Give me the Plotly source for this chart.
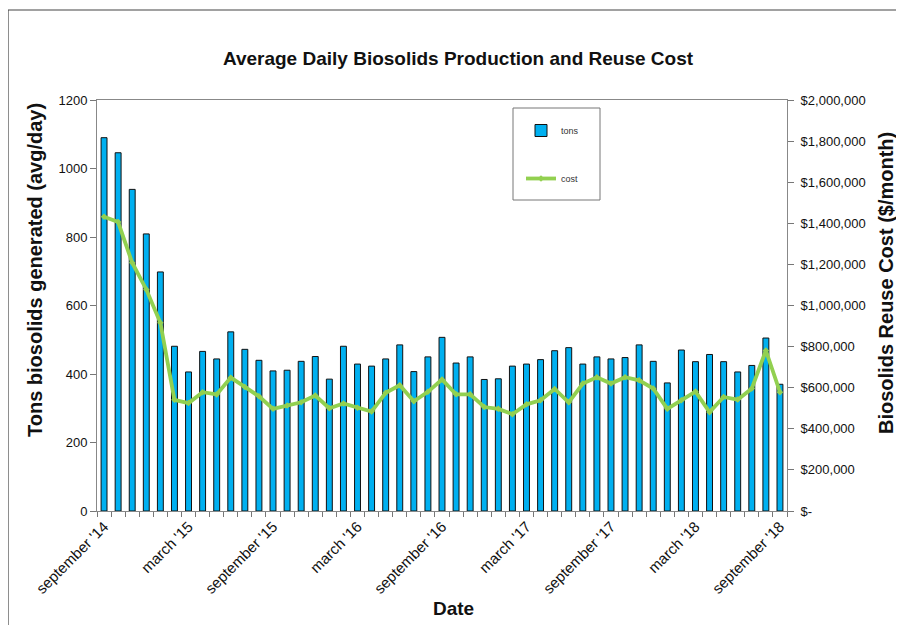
import plotly.graph_objects as go

months = [f"{y}-{m:02d}" for y, m in
          [(2014, m) for m in range(9, 13)] +
          [(yy, m) for yy in (2015, 2016, 2017) for m in range(1, 13)] +
          [(2018, m) for m in range(1, 10)]]

tons = [1090, 1046, 939, 809, 698, 481, 406, 466, 444, 523,
        472, 440, 409, 411, 437, 451, 385, 481, 429, 423,
        444, 485, 407, 450, 507, 432, 450, 384, 386, 423,
        429, 442, 468, 477, 429, 450, 444, 448, 485, 437,
        374, 470, 436, 457, 436, 406, 425, 505, 370]

cost = [1432000, 1406000, 1208000, 1078000, 916000, 541000, 525000, 578000, 567000, 649000,
        604000, 558000, 497000, 513000, 529000, 562000, 500000, 523000, 502000, 484000,
        575000, 612000, 534000, 580000, 640000, 568000, 568000, 506000, 497000, 471000,
        519000, 539000, 594000, 529000, 620000, 651000, 620000, 651000, 636000, 596000,
        497000, 539000, 581000, 481000, 555000, 542000, 596000, 781000, 578000]

label_months = {"2014-09": "september '14", "2015-03": "march '15", "2015-09": "september '15",
                "2016-03": "march '16", "2016-09": "september '16", "2017-03": "march '17",
                "2017-09": "september '17", "2018-03": "march '18", "2018-09": "september '18"}
tick_text = [label_months.get(m, "") for m in months]

left_ticks = [0, 200, 400, 600, 800, 1000, 1200]
right_ticks = [0, 200000, 400000, 600000, 800000, 1000000, 1200000, 1400000, 1600000, 1800000, 2000000]
right_text = ["$-"] + [f"${v:,}" for v in right_ticks[1:]]

FONT = "Arial, Liberation Sans, sans-serif"

fig = go.Figure()
fig.add_trace(go.Bar(
    x=months, y=tons, name="tons", width=0.42,
    marker=dict(color="#00B0F0", line=dict(color="#111111", width=1)),
    legendgroup="a", yaxis="y",
))
fig.add_trace(go.Scatter(
    x=months, y=cost, name="cost", mode="lines+markers",
    line=dict(color="#92D050", width=3.8),
    marker=dict(color="#92D050", size=5, symbol="diamond"),
    legendgroup="b", yaxis="y2",
))

# page has an 8px body margin: figure coords = page coords - 8
OFF = 8
W, H = 904 - OFF, 625 - OFF
L, R, T, B = 97 - OFF, 787 - OFF, 100 - OFF, 511 - OFF

def px(x):
    return (x - OFF - L) / (R - L)

def py(y):
    return (B - (y - OFF)) / (B - T)

TITLE_FONT = dict(size=20, family=FONT, color="#111111")

fig.update_layout(
    width=W, height=H,
    margin=dict(l=L, r=W - R, t=T, b=H - B, autoexpand=False),
    paper_bgcolor="white", plot_bgcolor="white",
    font=dict(family=FONT, size=12, color="#111111"),
    title=dict(text="<b>Average Daily Biosolids Production and Reuse Cost</b>",
               xref="paper", x=px(458), xanchor="center",
               yref="container", y=1 - (58 - OFF) / H, yanchor="middle",
               font=dict(size=19, family=FONT, color="#111111")),
    showlegend=True,
    legend=dict(x=px(521), y=py(116), xanchor="left", yanchor="top",
                borderwidth=0, bgcolor="rgba(255,255,255,0)",
                font=dict(size=9, family=FONT, color="#333333"),
                tracegroupgap=29, itemwidth=30),
    xaxis=dict(type="category", tickmode="array", tickvals=months, ticktext=tick_text,
               tickson="boundaries", ticks="outside", ticklen=5, tickcolor="#777777",
               tickangle=-45, tickfont=dict(size=15, family=FONT, color="#111111"),
               showline=True, linecolor="#888888", linewidth=1, mirror=True,
               showgrid=False, range=[-0.5, len(months) - 0.5]),
    yaxis=dict(range=[0, 1200], tickvals=left_ticks, ticks="outside", ticklen=6,
               tickcolor="#777777", showline=True, linecolor="#888888", linewidth=1,
               showgrid=False, zeroline=False, tickfont=dict(size=13, family=FONT)),
    yaxis2=dict(range=[0, 2000000], overlaying="y", side="right", tickvals=right_ticks,
                ticktext=right_text, ticks="outside", ticklen=6, tickcolor="#777777",
                showline=True, linecolor="#888888", linewidth=1, showgrid=False,
                zeroline=False, tickfont=dict(size=13, family=FONT), ticklabelstandoff=4),
    annotations=[
        dict(text="<b>Date</b>", xref="paper", yref="paper", x=px(453), y=py(608),
             xanchor="center", yanchor="middle", showarrow=False,
             font=dict(size=19, family=FONT, color="#111111")),
        dict(text="<b>Tons biosolids generated (avg/day)</b>", xref="paper", yref="paper",
             x=px(35), y=py(270), xanchor="center", yanchor="middle", showarrow=False,
             textangle=-90, font=TITLE_FONT),
        dict(text="<b>Biosolids Reuse Cost ($/month)</b>", xref="paper", yref="paper",
             x=px(886), y=py(283), xanchor="center", yanchor="middle", showarrow=False,
             textangle=-90, font=TITLE_FONT),
    ],
    shapes=[
        dict(type="rect", xref="paper", yref="paper",
             x0=px(8), x1=px(930), y0=py(650), y1=py(10),
             line=dict(color="#444444", width=1.2), fillcolor="rgba(0,0,0,0)",
             layer="below"),
        dict(type="rect", xref="paper", yref="paper",
             x0=px(513), x1=px(600), y0=py(200), y1=py(108),
             line=dict(color="#777777", width=1), fillcolor="white",
             layer="below"),
    ],
)

fig.write_html("out.html")
